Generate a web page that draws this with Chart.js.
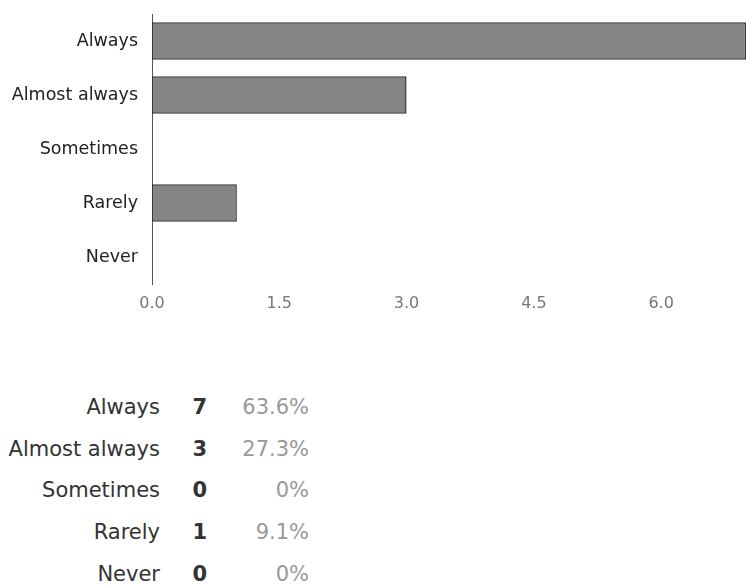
<!DOCTYPE html>
<html>
<head>
<meta charset="utf-8">
<script src="https://cdn.jsdelivr.net/npm/chart.js@4.4.1/dist/chart.umd.min.js"></script>
<style>
    body { margin: 0; background: #fff; font-family: "DejaVu Sans", sans-serif; }
    #wrap { position: relative; width: 746px; height: 586px; overflow: hidden; }
    #chartBox { position: absolute; left: 0; top: 0; width: 746px; height: 312px; }
    #summary { position: absolute; left: 0; top: 387px; border-collapse: collapse; font-size: 21px; }
    #summary td { padding: 0; height: 41.7px; line-height: 41.7px; text-align: right; white-space: nowrap; }
    #summary td.lbl { width: 160px; color: #333; }
    #summary td.cnt { width: 47px; color: #333; font-weight: bold; }
    #summary td.pct { width: 102px; color: #999; }
</style>
</head>
<body>
<div id="wrap">
    <div id="chartBox"><canvas id="graphCanvas"></canvas></div>
    <table id="summary"><tbody id="summaryBody"></tbody></table>
</div>
<script>
var categories = ['Always', 'Almost always', 'Sometimes', 'Rarely', 'Never'];
var responses = [7, 3, 0, 1, 0];
var xTicks = [0, 1.5, 3, 4.5, 6];
var xMax = 7;

function fillTable()
{
    var total = 0;
    for (var i in responses) {
        total += responses[i];
    }
    var body = document.getElementById('summaryBody');
    for (var j = 0; j < categories.length; j++) {
        var pct = responses[j] === 0 ? '0%' : (responses[j] / total * 100).toFixed(1) + '%';
        var row = document.createElement('tr');
        row.innerHTML = '<td class="lbl"></td><td class="cnt"></td><td class="pct"></td>';
        row.children[0].textContent = categories[j];
        row.children[1].textContent = responses[j];
        row.children[2].textContent = pct;
        body.appendChild(row);
    }
}

function showGraph()
{
    var chartdata = {
        labels: categories,
        datasets: [
            {
                label: 'Responses',
                backgroundColor: '#858585',
                borderColor: '#333333',
                borderWidth: 1.5,
                borderSkipped: false,
                barPercentage: 0.69,
                categoryPercentage: 1,
                data: responses
            }
        ]
    };

    new Chart(document.getElementById('graphCanvas'), {
        type: 'bar',
        data: chartdata,
        options: {
            indexAxis: 'y',
            responsive: true,
            maintainAspectRatio: false,
            animation: false,
            layout: { padding: { top: 14, right: 0, bottom: 0, left: 0 } },
            plugins: {
                legend: { display: false },
                tooltip: { enabled: false }
            },
            scales: {
                x: {
                    min: 0,
                    max: xMax,
                    grid: { display: false, drawTicks: false },
                    border: { display: false },
                    afterBuildTicks: function (scale) {
                        scale.ticks = xTicks.map(function (v) { return { value: v }; });
                    },
                    afterFit: function (scale) {
                        scale.height = 28;
                        scale.paddingLeft = 0;
                        scale.paddingRight = 0;
                    },
                    ticks: {
                        padding: 10,
                        color: '#777',
                        font: { family: 'DejaVu Sans', size: 16 },
                        maxRotation: 0,
                        callback: function (value) { return Number(value).toFixed(1); }
                    }
                },
                y: {
                    grid: { display: false, drawTicks: false },
                    border: { display: true, color: '#555', width: 1 },
                    afterFit: function (scale) {
                        scale.width = 152;
                        scale.paddingTop = 0;
                        scale.paddingBottom = 0;
                    },
                    ticks: {
                        padding: 14,
                        color: '#222',
                        font: { family: 'DejaVu Sans', size: 17.5 }
                    }
                }
            }
        }
    });
}

fillTable();
showGraph();
</script>
</body>
</html>
